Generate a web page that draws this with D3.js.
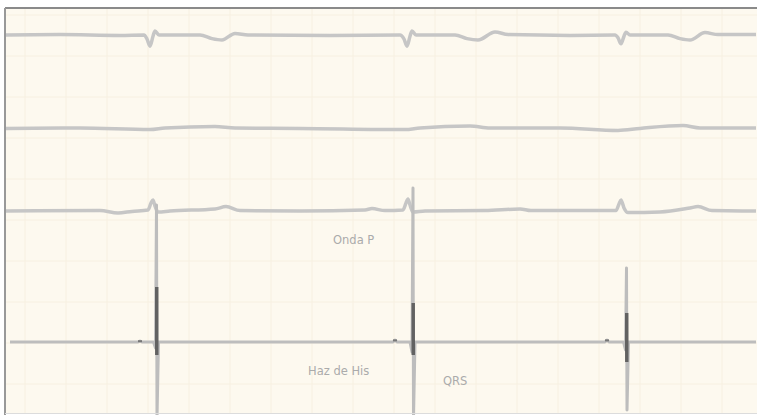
<!DOCTYPE html>
<html>
<head>
<meta charset="utf-8">
<script src="https://cdn.jsdelivr.net/npm/d3@7"></script>
<style>
  body { margin: 0; background: #fff; }
  svg { display: block; }
</style>
</head>
<body>
<script>
// Trace data: [time in ms, amplitude in mV]
var leadI = [
  [0, 0], [216, 0.01], [456, -0.01], [552, 0], [564, -0.1], [576, -0.28], [588, -0.03],
  [596, 0.1], [612, 0], [776, 0], [824, -0.09], [864, -0.125], [916, 0.04], [968, 0],
  [1296, -0.01], [1576, 0], [1592, -0.1], [1604, -0.28], [1616, -0.03], [1624, 0.1],
  [1640, 0], [1796, 0], [1844, -0.09], [1888, -0.125], [1956, 0.075], [2008, 0.01],
  [2256, -0.01], [2436, 0], [2448, -0.07], [2460, -0.22], [2472, -0.03], [2480, 0.07],
  [2496, 0], [2648, 0], [2696, -0.09], [2736, -0.125], [2796, 0.06], [2848, 0.01], [3000, 0.01]
];
var leadII = [
  [0, -0.01], [296, 0], [576, -0.04], [636, 0], [836, 0.04], [916, 0], [1176, -0.01],
  [1596, -0.04], [1656, 0], [1856, 0.05], [1936, 0], [2216, 0], [2448, -0.06],
  [2536, -0.01], [2708, 0.06], [2776, 0], [3000, 0]
];
var leadIII = [
  [0, 0], [376, 0.01], [448, -0.05], [504, -0.01], [568, 0.025], [580, 0.2], [588, 0.275],
  [596, 0.125], [608, -0.025], [656, 0], [836, 0.05], [880, 0.11], [936, 0.01], [1176, 0],
  [1436, 0.025], [1464, 0.06], [1516, 0.01], [1588, 0.025], [1600, 0.2], [1608, 0.3],
  [1616, 0.15], [1628, -0.025], [1676, 0], [1916, 0.01], [2056, 0.05], [2100, 0.01],
  [2440, 0.01], [2452, 0.175], [2460, 0.275], [2472, 0.075], [2488, -0.04], [2616, -0.025],
  [2736, 0.075], [2768, 0.11], [2824, 0.01], [3000, 0]
];
var leadHis = [
  [16, 0], [528, 0], [536, 0.025], [544, 0], [590, 0], [598, -0.15], [602, 3.425],
  [604, -1.9], [610, 0], [1548, 0], [1556, 0.05], [1564, 0], [1616, 0], [1624, -0.25],
  [1628, 3.85], [1630, -1.9], [1636, 0], [2396, 0], [2404, 0.05], [2412, 0], [2470, 0],
  [2478, -0.2], [2482, 1.85], [2484, -1.7], [2490, 0], [3000, 0]
];
// dark core of each QRS: [time, top mV, bottom mV]
var qrsCore = [[603, 1.375, -0.325], [1629, 0.975, -0.325], [2483, 0.725, -0.5]];
// His potentials [time, mV]
var hisSpikes = [[536, 0.02], [1556, 0.04], [2404, 0.04]];

var labels = ["Onda P", "Haz de His", "QRS"];
var labelTimes = [1308, 1208, 1748];

var width = 757, height = 415;
var frame = {left: 5, top: 8, bottom: 413};

var svg = d3.select("body").append("svg")
    .attr("width", width)
    .attr("height", height);

// paper
svg.append("rect")
    .attr("x", frame.left).attr("y", frame.top)
    .attr("width", width - frame.left).attr("height", frame.bottom - frame.top)
    .attr("fill", "#fdf9ef");

var x = d3.scaleLinear().domain([0, 3000]).range([6, 756]);

// grid
var gridG = svg.append("g").attr("stroke", "#f7f0e1").attr("stroke-width", 1);
gridG.selectAll("line.v")
    .data(d3.range(76, 3000, 164))
    .enter().append("line")
    .attr("x1", d => x(d)).attr("x2", d => x(d))
    .attr("y1", frame.top).attr("y2", frame.bottom);
gridG.selectAll("line.h")
    .data(d3.range(15, frame.bottom, 41))
    .enter().append("line")
    .attr("x1", frame.left).attr("x2", width)
    .attr("y1", d => d).attr("y2", d => d);

// one y scale per lead, 40px per mV around its baseline
var leadBase = [35, 128, 211, 342];
var yScales = leadBase.map(function(b) {
  return d3.scaleLinear().domain([-1, 1]).range([b + 40, b - 40]);
});

var leads = [leadI, leadII, leadIII];
leads.forEach(function(data, i) {
  var line = d3.line()
      .x(d => x(d[0]))
      .y(d => yScales[i](d[1]))
      .curve(d3.curveMonotoneX);
  svg.append("path")
      .datum(data)
      .attr("d", line)
      .attr("fill", "none")
      .attr("stroke", "#c6c6c6")
      .attr("stroke-width", 3.5)
      .attr("stroke-linejoin", "round");
});

// His lead
var y4 = yScales[3];
var hisLine = d3.line().x(d => x(d[0])).y(d => y4(d[1]));
svg.append("path")
    .datum(leadHis)
    .attr("d", hisLine)
    .attr("fill", "none")
    .attr("stroke", "#bdbdbd")
    .attr("stroke-width", 3)
    .attr("stroke-linejoin", "round");

svg.selectAll("line.core")
    .data(qrsCore)
    .enter().append("line")
    .attr("x1", d => x(d[0])).attr("x2", d => x(d[0]))
    .attr("y1", d => y4(d[1])).attr("y2", d => y4(d[2]))
    .attr("stroke", "#333")
    .attr("stroke-width", 3.5)
    .attr("opacity", 0.65);

svg.selectAll("line.his")
    .data(hisSpikes)
    .enter().append("line")
    .attr("x1", d => x(d[0]) - 2).attr("x2", d => x(d[0]) + 2)
    .attr("y1", d => y4(d[1])).attr("y2", d => y4(d[1]))
    .attr("stroke", "#777")
    .attr("stroke-width", 2);

// annotations
var labelY = [244, 375, 385];
svg.selectAll("text.lab")
    .data(labels)
    .enter().append("text")
    .attr("x", (d, i) => x(labelTimes[i]))
    .attr("y", (d, i) => labelY[i])
    .attr("font-family", "DejaVu Sans, sans-serif")
    .attr("font-size", 11.5)
    .attr("fill", "#ababab")
    .text(d => d);

// frame borders
svg.append("line")
    .attr("x1", frame.left).attr("x2", width)
    .attr("y1", frame.top).attr("y2", frame.top)
    .attr("stroke", "#8a8a8a").attr("stroke-width", 2);
svg.append("line")
    .attr("x1", frame.left).attr("x2", frame.left)
    .attr("y1", frame.top).attr("y2", height)
    .attr("stroke", "#999").attr("stroke-width", 2);
svg.append("line")
    .attr("x1", frame.left).attr("x2", width)
    .attr("y1", frame.bottom + 0.5).attr("y2", frame.bottom + 0.5)
    .attr("stroke", "#dcdcdc").attr("stroke-width", 1);
</script>
</body>
</html>
